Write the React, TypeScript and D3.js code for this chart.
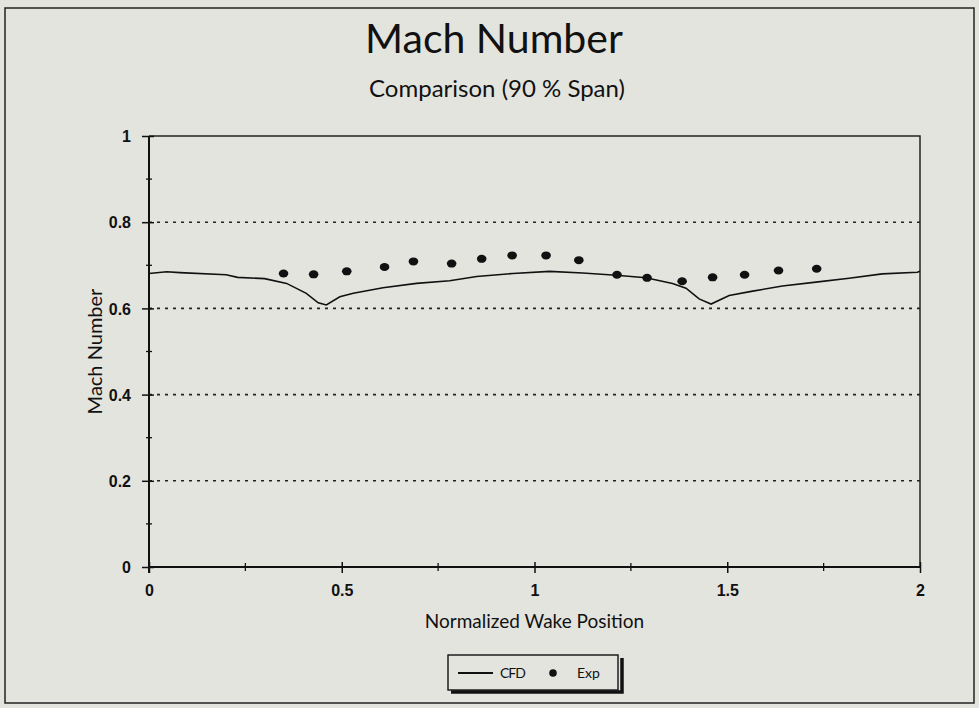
import React, { useEffect, useRef } from 'react'
import * as d3 from 'd3'

// CFD curve (normalized wake position vs mach number)
const cfdX = [0, 0.046, 0.08, 0.2, 0.23, 0.3, 0.357, 0.408, 0.439, 0.46, 0.495, 0.53, 0.607, 0.694, 0.78, 0.85, 0.944, 1.039, 1.125, 1.212, 1.289, 1.358, 1.393, 1.427, 1.458, 1.505, 1.566, 1.643, 1.73, 1.816, 1.902, 1.993, 2.0]
const cfdY = [0.681, 0.685, 0.683, 0.678, 0.672, 0.669, 0.658, 0.635, 0.613, 0.608, 0.627, 0.635, 0.648, 0.658, 0.664, 0.674, 0.681, 0.686, 0.682, 0.677, 0.671, 0.658, 0.647, 0.622, 0.61, 0.63, 0.64, 0.652, 0.661, 0.67, 0.68, 0.684, 0.686]

// experimental points
const expX = [0.349, 0.427, 0.513, 0.611, 0.686, 0.785, 0.863, 0.942, 1.03, 1.115, 1.214, 1.292, 1.383, 1.462, 1.545, 1.633, 1.732]
const expY = [0.681, 0.679, 0.686, 0.696, 0.709, 0.704, 0.715, 0.723, 0.723, 0.712, 0.678, 0.671, 0.663, 0.672, 0.678, 0.688, 0.692]

const xTicks = [0, 0.5, 1, 1.5, 2]
const xMinor = [0.25, 0.75, 1.25, 1.75]
const yTicks = [0, 0.2, 0.4, 0.6, 0.8, 1]
const yMinor = [0.1, 0.3, 0.5, 0.7, 0.9]
const gridValues = [0.2, 0.4, 0.6, 0.8]

const W = 979
const H = 708
const tickFont = '"Liberation Sans Narrow", "Liberation Sans", Arial, sans-serif'
const textFont = 'Lato, "Open Sans", sans-serif'
const ink = '#111'

const App = () => {
    const ref = useRef<SVGSVGElement>(null)

    useEffect(() => {
        document.body.style.margin = '0'
        const svg = d3.select(ref.current)
        svg.selectAll('*').remove()

        const margin = { top: 136, right: 59, bottom: 141, left: 149 }
        const width = W - margin.left - margin.right,
            height = H - margin.top - margin.bottom
        const cx = margin.left + width / 2

        const x = d3.scaleLinear().domain([0, 2]).range([0, width])
        const y = d3.scaleLinear().domain([0, 1]).range([height, 0])

        // background + outer frame
        svg.append('rect').attr('width', W).attr('height', H).attr('fill', '#e4e4de')
        svg.append('rect')
            .attr('x', 5).attr('y', 8).attr('width', 969).attr('height', 695)
            .attr('fill', 'none').attr('stroke', '#222').attr('stroke-width', 1.5)

        // titles
        svg.append('text')
            .attr('x', 494).attr('y', 53)
            .attr('text-anchor', 'middle')
            .attr('font-family', textFont).attr('font-size', 41)
            .attr('fill', ink)
            .text('Mach Number')
        svg.append('text')
            .attr('x', 497).attr('y', 97)
            .attr('text-anchor', 'middle')
            .attr('font-family', textFont).attr('font-size', 24)
            .attr('fill', ink)
            .text('Comparison  (90 % Span)')

        const g = svg.append('g')
            .attr('transform', `translate(${margin.left},${margin.top})`)

        // dotted grid
        g.selectAll('.grid')
            .data(gridValues)
            .enter()
            .append('line')
            .attr('class', 'grid')
            .attr('x1', 0).attr('x2', width)
            .attr('y1', d => y(d)).attr('y2', d => y(d))
            .attr('stroke', '#222')
            .attr('stroke-width', 1.6)
            .attr('stroke-dasharray', '3,5')

        // plot frame (top/right)
        g.append('path')
            .attr('d', `M0,0H${width}V${height}`)
            .attr('fill', 'none').attr('stroke', '#222').attr('stroke-width', 1.5)

        // axes
        const yAxis: any = d3.axisLeft(y).tickValues(yTicks).tickSize(6).tickFormat(d3.format('~g'))
        const xAxis: any = d3.axisBottom(x).tickValues(xTicks).tickSize(6).tickFormat(d3.format('~g'))

        const ya = g.append('g').call(yAxis)
        const xa = g.append('g').attr('transform', `translate(0,${height})`).call(xAxis)
        ya.select('.domain').remove()
        xa.select('.domain').remove()

        ya.selectAll('line').attr('x1', 5).attr('x2', -7).attr('stroke', ink).attr('stroke-width', 1.5)
        ya.selectAll('text').attr('x', -18).attr('dy', '0.35em')
            .attr('font-family', tickFont).attr('font-size', 16).attr('font-weight', 'bold').attr('fill', ink)
        xa.selectAll('line').attr('y1', -5).attr('y2', 6).attr('stroke', ink).attr('stroke-width', 1.5)
        xa.selectAll('text').attr('y', 18).attr('dy', '0.71em')
            .attr('font-family', tickFont).attr('font-size', 16).attr('font-weight', 'bold').attr('fill', ink)

        // minor ticks
        g.selectAll('.ymin')
            .data(yMinor)
            .enter()
            .append('line')
            .attr('x1', -3).attr('x2', 3)
            .attr('y1', d => y(d)).attr('y2', d => y(d))
            .attr('stroke', ink).attr('stroke-width', 1.3)
        g.selectAll('.xmin')
            .data(xMinor)
            .enter()
            .append('line')
            .attr('x1', d => x(d)).attr('x2', d => x(d))
            .attr('y1', height - 4).attr('y2', height + 4)
            .attr('stroke', ink).attr('stroke-width', 1.3)

        // axis lines
        g.append('line').attr('x1', 0).attr('x2', 0).attr('y1', 0).attr('y2', height + 6)
            .attr('stroke', ink).attr('stroke-width', 2)
        g.append('line').attr('x1', 0).attr('x2', width).attr('y1', height).attr('y2', height)
            .attr('stroke', ink).attr('stroke-width', 2)

        // axis titles
        svg.append('text')
            .attr('transform', `translate(102,${margin.top + height / 2}) rotate(-90)`)
            .attr('text-anchor', 'middle')
            .attr('font-family', textFont).attr('font-size', 20)
            .attr('fill', ink)
            .text('Mach Number')
        svg.append('text')
            .attr('x', cx).attr('y', 628)
            .attr('text-anchor', 'middle')
            .attr('font-family', textFont).attr('font-size', 19)
            .attr('fill', ink)
            .text('Normalized Wake Position')

        // CFD line
        const line = d3.line<number>()
            .x((d, i) => x(cfdX[i]))
            .y(d => y(d))
        g.append('path')
            .datum(cfdY)
            .attr('d', line)
            .attr('fill', 'none')
            .attr('stroke', ink)
            .attr('stroke-width', 1.6)

        // Exp points
        g.selectAll('.exp')
            .data(expY)
            .enter()
            .append('ellipse')
            .attr('class', 'exp')
            .attr('cx', (d, i) => x(expX[i]))
            .attr('cy', d => y(d))
            .attr('rx', 4.8).attr('ry', 4)
            .attr('fill', ink)

        // legend
        const lg = svg.append('g').attr('transform', 'translate(448,655)')
        lg.append('path')
            .attr('d', 'M3,37H174V3')
            .attr('fill', 'none').attr('stroke', ink).attr('stroke-width', 3.5)
        lg.append('rect')
            .attr('width', 170).attr('height', 35)
            .attr('fill', '#e4e4de').attr('stroke', ink).attr('stroke-width', 1.4)
        lg.append('line').attr('x1', 10).attr('x2', 45).attr('y1', 18).attr('y2', 18)
            .attr('stroke', ink).attr('stroke-width', 1.8)
        lg.append('text').attr('x', 52).attr('y', 23)
            .attr('font-family', textFont).attr('font-size', 14).attr('fill', ink)
            .attr('letter-spacing', -1)
            .text('CFD')
        lg.append('circle').attr('cx', 105).attr('cy', 18).attr('r', 3.8).attr('fill', ink)
        lg.append('text').attr('x', 129).attr('y', 23)
            .attr('font-family', textFont).attr('font-size', 14).attr('fill', ink)
            .text('Exp')
    }, [])

    return <svg ref={ref} width={W} height={H} style={{ display: 'block' }} />
}

export default App
